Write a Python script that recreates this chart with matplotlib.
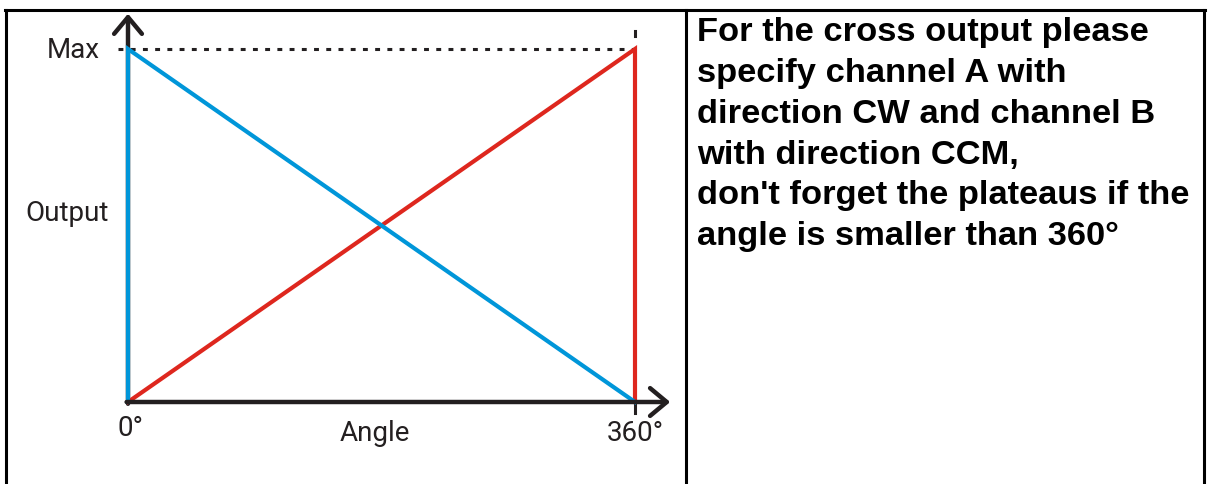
import matplotlib.pyplot as plt
from matplotlib.lines import Line2D

W, H = 1209, 484

# data (angle in degrees, output as fraction of Max)
angle_cw = [0, 0, 360]      # channel A (blue): jumps to Max, falls to 0
output_cw = [0, 1, 0]
angle_ccw = [0, 360, 360]   # channel B (red): rises to Max, drops to 0
output_ccw = [0, 1, 0]
tick_labels = ["0°", "360°"]
note = ["For the cross output please",
        "specify channel A with",
        "direction CW and channel B",
        "with direction CCM,",
        "don't forget the plateaus if the",
        "angle is smaller than 360°"]

blue = "#0096d9"
red = "#de271e"
ink = "#231f20"

fig = plt.figure(figsize=(W / 100, H / 100), dpi=100)

# frame of the table
def fline(x0, y0, x1, y1, lw=2.2):
    fig.add_artist(Line2D([x0 / W, x1 / W], [1 - y0 / H, 1 - y1 / H],
                          color="black", lw=lw, transform=fig.transFigure))

fline(5, 10, 1205, 10)
fline(6, 10, 6, 490)
fline(1204, 10, 1204, 490)
fline(686, 10, 686, 490)

# plot area: 0..360 deg -> px 128..635, 0..Max -> px 402..49
ax = fig.add_axes([128 / W, (H - 402) / H, 507 / W, 353 / H])
ax.set_xlim(0, 360)
ax.set_ylim(0, 1)
ax.axis("off")

# dotted Max line and small markers at 360
ax.plot([-7, 361.5], [1, 1], color=ink, lw=2.2, dashes=(1.6, 2.4),
        clip_on=False)
ax.plot([360, 360], [1.037, 1.05], color=ink, lw=2.2, clip_on=False)
ax.plot([360, 360], [0, -0.03], color=ink, lw=2.2, clip_on=False)

# series
ax.plot(angle_ccw, output_ccw, color=red, lw=3, clip_on=False,
        solid_joinstyle="miter", zorder=3)
ax.plot(angle_cw, output_cw, color=blue, lw=3, clip_on=False,
        solid_joinstyle="miter", zorder=3)

# axes arrows
arrow = dict(arrowstyle="->,head_length=0.6,head_width=0.5",
             color=ink, lw=3.2, mutation_scale=20, shrinkA=0, shrinkB=0)
ax.annotate("", xy=(385, 0), xytext=(-1, 0), arrowprops=arrow,
            annotation_clip=False, zorder=4)
ax.annotate("", xy=(0, 1.1), xytext=(0, -0.005), arrowprops=arrow,
            annotation_clip=False, zorder=2)

# labels
lab = dict(fontsize=20, color=ink, family="Roboto")
ax.text(-20, 0.995, "Max", ha="right", va="center", **lab)
ax.text(-14, 0.535, "Output", ha="right", va="center", **lab)
ax.text(1.5, -0.075, tick_labels[0], ha="center", va="center", **lab)
ax.text(360, -0.088, tick_labels[1], ha="center", va="center", **lab)
ax.text(175, -0.088, "Angle", ha="center", va="center", **lab)

fig.text(697 / W, 1 - 17 / H, "\n".join(note), ha="left", va="top",
         fontsize=24.8, fontweight="bold", family="Liberation Sans",
         linespacing=1.41)

fig.savefig("out.png", dpi=100)
